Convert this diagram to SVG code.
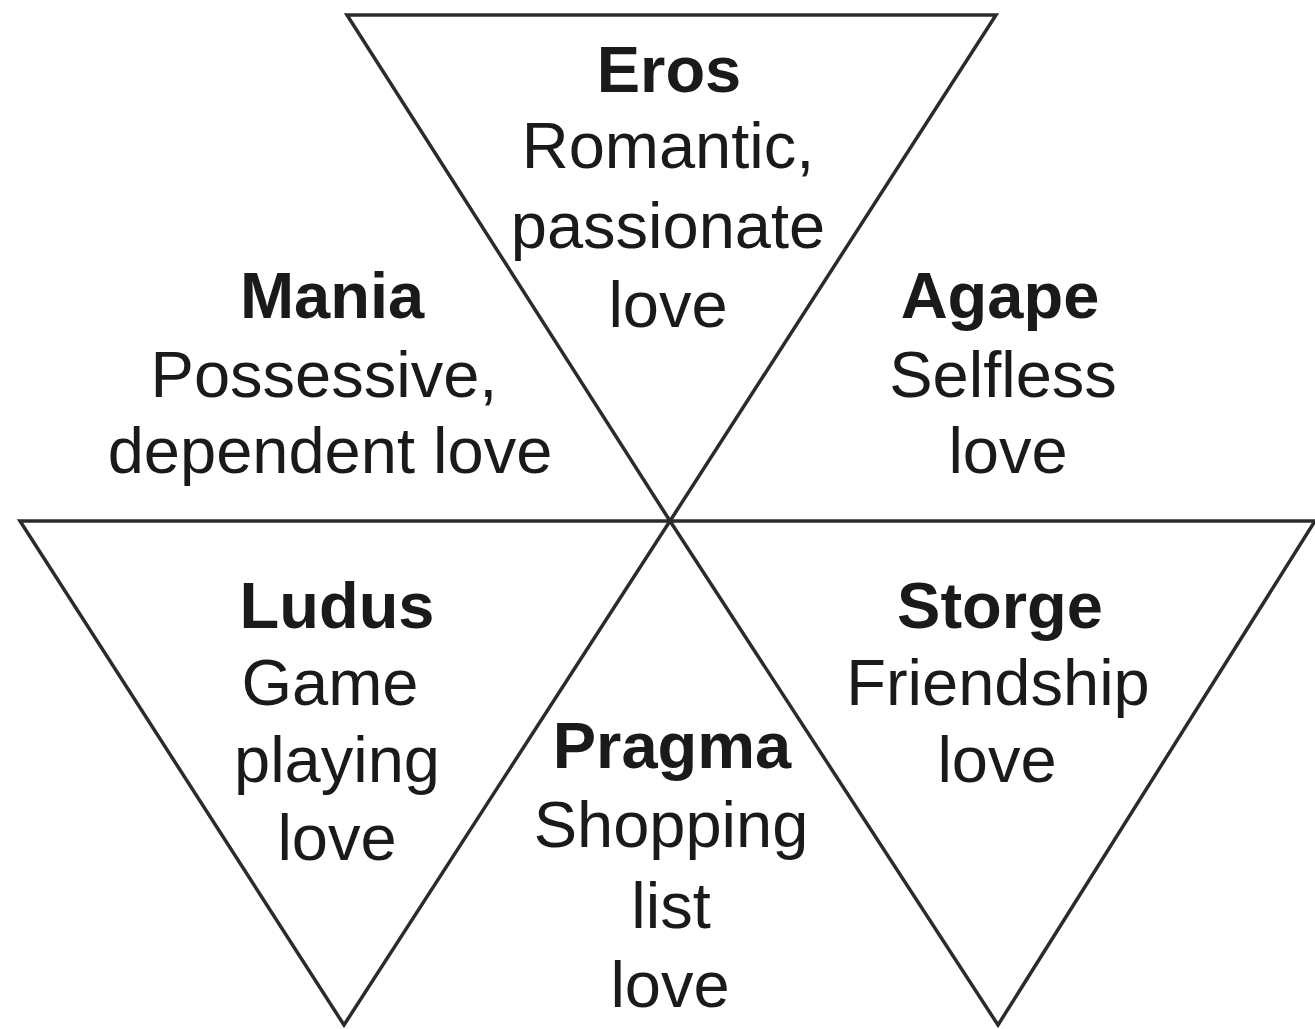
<svg xmlns="http://www.w3.org/2000/svg" width="1315" height="1029" viewBox="0 0 1315 1029">
<style>
.tri{fill:none;stroke:#2b2b2b;stroke-width:3.5;stroke-linejoin:miter}
text{font-family:"Liberation Sans",Arial,sans-serif;font-size:65px;fill:#1a1a1a;text-anchor:middle}
.t{font-weight:bold}
</style>
<rect width="1315" height="1029" fill="#fff"/>
<g id="connectors">
<polygon class="tri" points="347,15 996,15 670,521"/>
<polygon class="tri" points="20,521 670,521 344,1025"/>
<polygon class="tri" points="670,521 1315,521 998,1025"/>
</g>
<g id="eros">
<text class="t" x="669" y="92">Eros</text>
<text x="668" y="168">Romantic,</text>
<text x="668" y="248">passionate</text>
<text x="668" y="327">love</text>
</g>
<g id="mania">
<text class="t" x="332" y="318">Mania</text>
<text x="324" y="397">Possessive,</text>
<text x="330" y="473">dependent love</text>
</g>
<g id="agape">
<text class="t" x="1000" y="318">Agape</text>
<text x="1003" y="397">Selfless</text>
<text x="1008" y="473">love</text>
</g>
<g id="ludus">
<text class="t" x="337" y="628">Ludus</text>
<text x="330" y="705">Game</text>
<text x="337" y="782">playing</text>
<text x="337" y="860">love</text>
</g>
<g id="storge">
<text class="t" x="1000" y="628">Storge</text>
<text x="998" y="705">Friendship</text>
<text x="997" y="782">love</text>
</g>
<g id="pragma">
<text class="t" x="672" y="768">Pragma</text>
<text x="671" y="847">Shopping</text>
<text x="671" y="928">list</text>
<text x="670" y="1007">love</text>
</g>
</svg>
